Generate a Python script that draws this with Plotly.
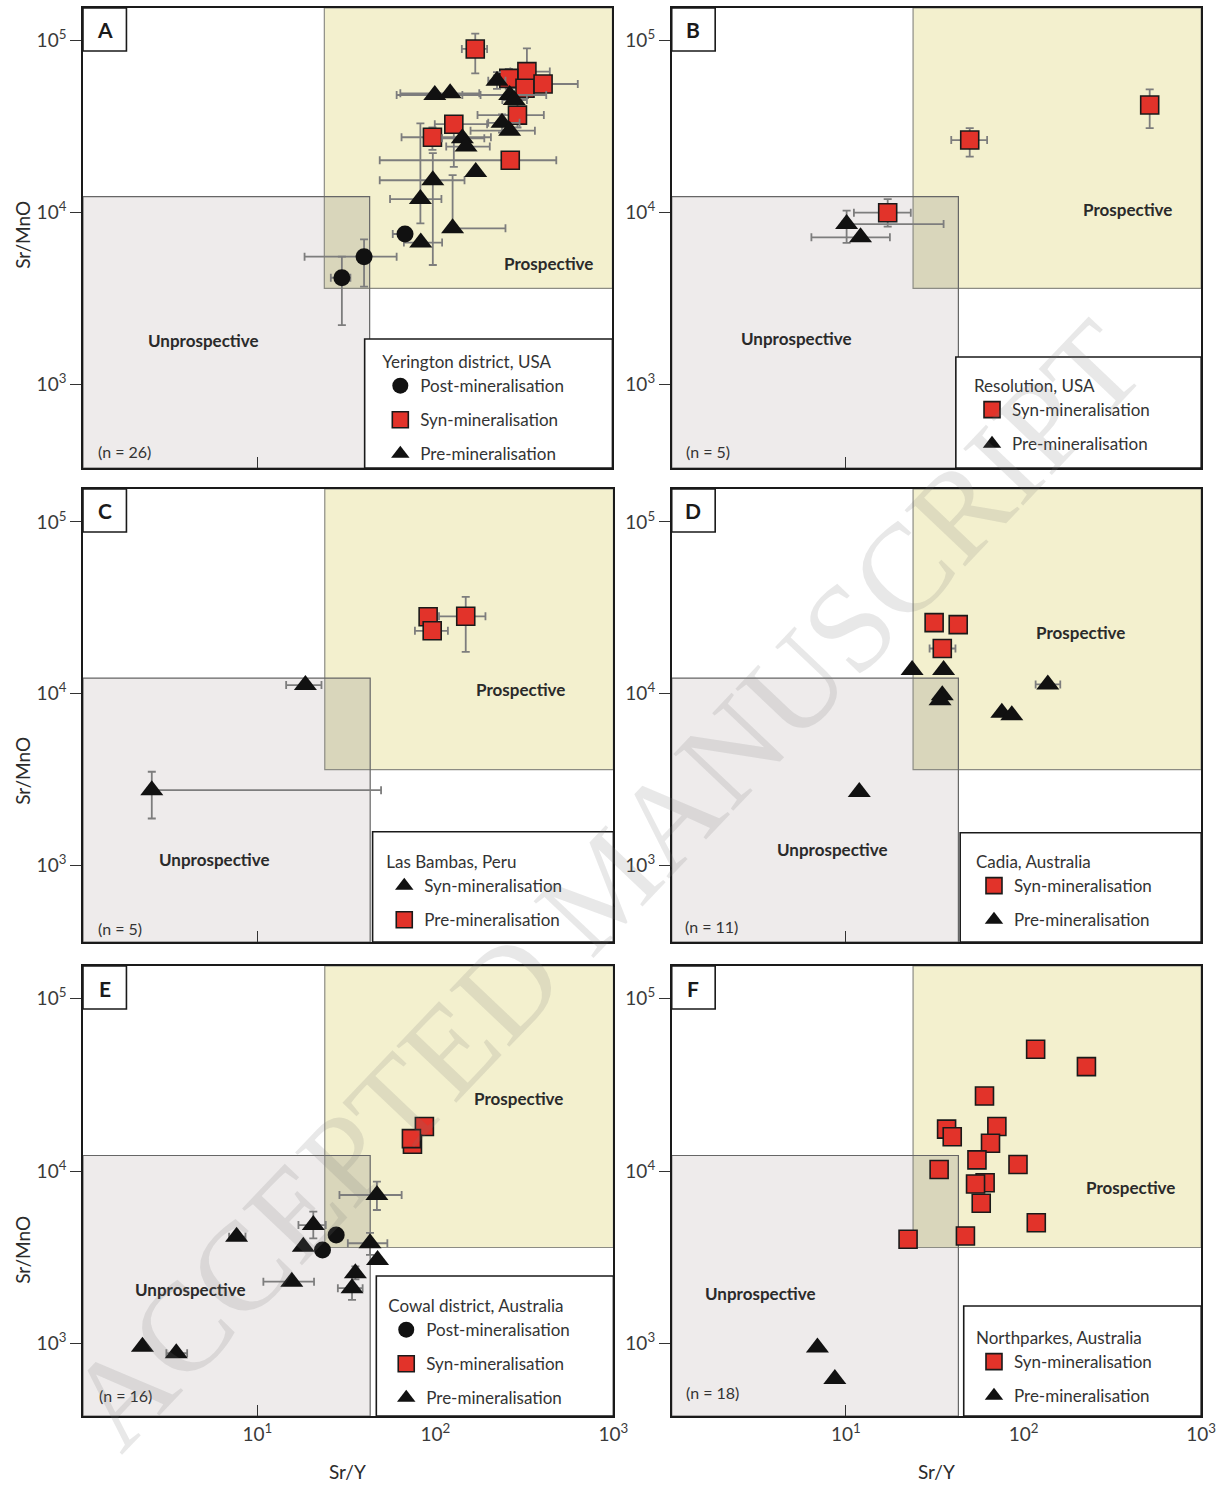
import plotly.graph_objects as go

W, H = 1232, 1488

# ---------------------------------------------------------------------------
# Sr/Y (x) and Sr/MnO (y) of zircon-bearing intrusions, with error ranges
# ---------------------------------------------------------------------------

# A - Yerington district, USA
A_POST_X = [30, 40, 68]
A_POST_Y = [4150, 5500, 7450]
A_POST_XLO = [26, 18.5, 58]
A_POST_XHI = [33.5, 61, 72]
A_POST_YLO = [2200, 3680, 7450]
A_POST_YHI = [5500, 6930, 7450]

A_SYN_X = [169, 330, 261, 322, 407, 292, 128, 97, 266]
A_SYN_Y = [88700, 65500, 59800, 52400, 55500, 36600, 32400, 27200, 20000]
A_SYN_XLO = [142, 266, 215, 262, 316, 174, 100, 65, 49]
A_SYN_XHI = [197, 444, 320, 400, 638, 411, 197, 207, 483]
A_SYN_YLO = [64000, 50000, 52000, 46000, 50000, 31000, 18300, 23000, 20000]
A_SYN_YHI = [109000, 89500, 68000, 60000, 61000, 43000, 36000, 31000, 20000]

A_PRE_X = [100, 122, 224, 264, 280, 239, 264, 143, 150, 170, 97.5, 83, 126, 83.4]
A_PRE_Y = [47900, 49000, 58000, 47900, 44800, 33000, 29700, 26800, 24000,
           17100, 15300, 11900, 8040, 6640]
A_PRE_XLO = [61, 64, 200, 143, 240, 200, 159, 110, 116, 170, 49, 56, 126, 67]
A_PRE_XHI = [181, 178, 250, 424, 330, 300, 366, 190, 204, 170, 147, 109, 250, 110]
A_PRE_YLO = [47900, 49000, 52000, 47900, 44800, 29000, 29700, 26800, 24000,
             17100, 4920, 8600, 8040, 6640]
A_PRE_YHI = [47900, 49000, 65000, 47900, 44800, 37000, 29700, 26800, 24000,
             17100, 22000, 32800, 16400, 6640]

# B - Resolution, USA
B_SYN_X = [513, 49.8, 17.2]
B_SYN_Y = [41900, 26200, 9910]
B_SYN_XLO = [513, 39.2, 11.1]
B_SYN_XHI = [513, 62.4, 23.2]
B_SYN_YLO = [30700, 21000, 8220]
B_SYN_YHI = [51600, 30700, 11900]

B_PRE_X = [10.1, 12.1]
B_PRE_Y = [8510, 7130]
B_PRE_XLO = [9.6, 6.4]
B_PRE_XHI = [35.5, 17.7]
B_PRE_YLO = [6610, 7130]
B_PRE_YHI = [10200, 7130]

# C - Las Bambas, Peru
C_SYN_X = [18.6, 2.55]
C_SYN_Y = [11200, 2735]
C_SYN_XLO = [14.5, 2.55]
C_SYN_XHI = [22.9, 49.5]
C_SYN_YLO = [11200, 1870]
C_SYN_YHI = [11200, 3500]

C_PRE_X = [91, 95.9, 148]
C_PRE_Y = [28000, 23200, 28200]
C_PRE_XLO = [91, 76.7, 104.7]
C_PRE_XHI = [91, 117.5, 191]
C_PRE_YLO = [28000, 23200, 17500]
C_PRE_YHI = [28000, 23200, 36600]

# D - Cadia, Australia
D_SYN_X = [31.4, 42.9, 34.9]
D_SYN_Y = [25900, 25200, 18300]
D_SYN_XLO = [31.4, 42.9, 29.6]
D_SYN_XHI = [31.4, 42.9, 41.4]

D_PRE_X = [23.6, 35.5, 34.9, 33.9, 75.5, 85.9, 137, 11.9]
D_PRE_Y = [13700, 13700, 9780, 9140, 7730, 7480, 11300, 2670]
D_PRE_XLO = [23.6, 35.5, 34.9, 33.9, 75.5, 85.9, 117, 11.9]
D_PRE_XHI = [23.6, 35.5, 34.9, 33.9, 75.5, 85.9, 161, 11.9]

# E - Cowal district, Australia
E_POST_X = [27.7, 23.2]
E_POST_Y = [4250, 3480]

E_SYN_X = [86.7, 74.3, 73.3]
E_SYN_Y = [18100, 14300, 15400]

E_PRE_X = [46.9, 20.6, 7.64, 18.1, 42.9, 47.3, 35.5, 34.0, 15.6, 2.26, 3.50]
E_PRE_Y = [7260, 4860, 4160, 3640, 3810, 3050, 2550, 2090, 2280, 957, 877]
E_PRE_XLO = [28.9, 17.0, 6.93, 18.1, 32.2, 47.3, 35.5, 28.3, 10.8, 2.26, 3.08]
E_PRE_XHI = [64.6, 24.2, 8.57, 18.1, 53.7, 47.3, 35.5, 39.0, 20.8, 2.26, 4.03]
E_PRE_YLO = [5940, 4070, 4160, 3640, 3260, 3050, 2350, 1790, 2280, 957, 877]
E_PRE_YHI = [8670, 5810, 4160, 3640, 4380, 3050, 2800, 2440, 2280, 957, 877]

# F - Northparkes, Australia
F_SYN_X = [117, 226, 60.3, 36.9, 39.7, 70.8, 65.2, 54.7, 93.1, 33.5, 60.8,
           53.7, 57.8, 118, 47.1, 22.4]
F_SYN_Y = [50800, 40300, 27200, 17500, 15800, 18100, 14500, 11600, 10900,
           10200, 8550, 8410, 6500, 5010, 4200, 4020]

F_PRE_X = [6.92, 8.67]
F_PRE_Y = [946, 622]

# Fertility fields
PROSP_SRY_MIN = 23.9
PROSP_SRMNO_MIN = 3600
UNPROSP_SRY_MAX = 43
UNPROSP_SRMNO_MAX = 12300

PANEL_LETTERS = ["A", "B", "C", "D", "E", "F"]
LOCATIONS = ["Yerington district, USA", "Resolution, USA", "Las Bambas, Peru",
             "Cadia, Australia", "Cowal district, Australia", "Northparkes, Australia"]
SAMPLE_COUNTS = [26, 5, 5, 11, 16, 18]

Y_TICKS = [1e3, 1e4, 1e5]
Y_TICKTEXT = ["10<sup>3</sup>", "10<sup>4</sup>", "10<sup>5</sup>"]
X_TICKS = [10, 100, 1000]
X_TICKTEXT = ["10<sup>1</sup>", "10<sup>2</sup>", "10<sup>3</sup>"]

# ---------------------------------------------------------------------------
# Layout geometry (pixels on the 1232 x 1488 page)
# ---------------------------------------------------------------------------
PANEL_PX = [(84, 620, 8, 468), (680, 1216, 8, 468),
            (84, 621, 489, 942), (680, 1216, 489, 942),
            (84, 621, 966, 1416), (680, 1216, 966, 1416)]
X_RANGE = (0.02, 3.0)
Y_RANGES = [(2.512, 5.186), (2.512, 5.186), (2.552, 5.192), (2.552, 5.192),
            (2.579, 5.189), (2.579, 5.189)]
# legend frame: left edge and top edge as axis-domain fractions
LEG_FRAME = [(0.532, 0.2804), (0.5366, 0.2413), (0.546, 0.2435),
             (0.5448, 0.2413), (0.553, 0.311), (0.5515, 0.2444)]
# legend title: left x and vertical centre in pixels
LEG_TITLE_PX = [(387, 358), (986, 382), (391, 858), (988, 858), (393, 1302), (988, 1334)]
PROSP_LABEL_PX = [(555, 263), (1141, 210), (527, 690), (1094, 632), (525, 1098), (1144, 1187)]
UNPROSP_LABEL_PX = [(206, 340), (806, 339), (217, 859), (843, 849), (193, 1289), (770, 1293)]
N_LABEL_PX = [(97, 452), (692, 452), (97, 928), (691, 927), (98, 1395), (692, 1392)]

FONT = "Lato, 'Open Sans', sans-serif"
RED = "#E2332A"
ERR_COLOR = "#7d7d7d"
YELLOW = "#F3F0CE"
GREY = "#EEEBEB"
OVERLAP = "#D9D6BB"

STYLES = {
    "post": dict(symbol="circle", size=17, color="#111111", line=dict(width=0)),
    "syn": dict(symbol="square", size=18, color=RED, line=dict(color="#1a1a1a", width=1.6)),
    "pre": dict(symbol="triangle-up", size=20, color="#111111", line=dict(width=0)),
}


def px_x(p):
    return p / W


def px_y(p):
    return 1 - p / H


def label(x, y, text, size, xanchor="center", color="#2a2a2a", **kw):
    return dict(xref="paper", yref="paper", x=px_x(x), y=px_y(y), text=text,
                xanchor=xanchor, yanchor="middle", showarrow=False,
                font=dict(size=size, color=color, family=kw.pop("family", FONT)), **kw)


def error_spec(centre, lo, hi):
    if lo is None or hi is None:
        return dict(visible=False)
    return dict(type="data", symmetric=False,
                array=[h - c for c, h in zip(centre, hi)],
                arrayminus=[c - l for c, l in zip(centre, lo)],
                color=ERR_COLOR, thickness=1.8, width=4)


# group: (style, legend label, legend rank, x, y, xlo, xhi, ylo, yhi)
GROUPS = [
    [("syn", "Syn-mineralisation", 2, A_SYN_X, A_SYN_Y, A_SYN_XLO, A_SYN_XHI, A_SYN_YLO, A_SYN_YHI),
     ("pre", "Pre-mineralisation", 3, A_PRE_X, A_PRE_Y, A_PRE_XLO, A_PRE_XHI, A_PRE_YLO, A_PRE_YHI),
     ("post", "Post-mineralisation", 1, A_POST_X, A_POST_Y, A_POST_XLO, A_POST_XHI, A_POST_YLO, A_POST_YHI)],
    [("pre", "Pre-mineralisation", 2, B_PRE_X, B_PRE_Y, B_PRE_XLO, B_PRE_XHI, B_PRE_YLO, B_PRE_YHI),
     ("syn", "Syn-mineralisation", 1, B_SYN_X, B_SYN_Y, B_SYN_XLO, B_SYN_XHI, B_SYN_YLO, B_SYN_YHI)],
    [("pre", "Syn-mineralisation", 1, C_SYN_X, C_SYN_Y, C_SYN_XLO, C_SYN_XHI, C_SYN_YLO, C_SYN_YHI),
     ("syn", "Pre-mineralisation", 2, C_PRE_X, C_PRE_Y, C_PRE_XLO, C_PRE_XHI, C_PRE_YLO, C_PRE_YHI)],
    [("syn", "Syn-mineralisation", 1, D_SYN_X, D_SYN_Y, D_SYN_XLO, D_SYN_XHI, None, None),
     ("pre", "Pre-mineralisation", 2, D_PRE_X, D_PRE_Y, D_PRE_XLO, D_PRE_XHI, None, None)],
    [("syn", "Syn-mineralisation", 2, E_SYN_X, E_SYN_Y, None, None, None, None),
     ("pre", "Pre-mineralisation", 3, E_PRE_X, E_PRE_Y, E_PRE_XLO, E_PRE_XHI, E_PRE_YLO, E_PRE_YHI),
     ("post", "Post-mineralisation", 1, E_POST_X, E_POST_Y, None, None, None, None)],
    [("syn", "Syn-mineralisation", 1, F_SYN_X, F_SYN_Y, None, None, None, None),
     ("pre", "Pre-mineralisation", 2, F_PRE_X, F_PRE_Y, None, None, None, None)],
]

fig = go.Figure()
layout = dict(width=W, height=H, margin=dict(l=0, r=0, t=0, b=0),
              paper_bgcolor="white", plot_bgcolor="white",
              font=dict(family=FONT, color="#2b2b2b"), showlegend=True)
shapes, annotations = [], []

for i in range(6):
    n = i + 1
    sfx = "" if n == 1 else str(n)
    xa, ya = f"x{sfx}", f"y{sfx}"
    leg = f"legend{sfx}"
    x0p, x1p, y0p, y1p = PANEL_PX[i]
    yr = Y_RANGES[i]
    bottom_row = i >= 4

    layout[f"xaxis{sfx}"] = dict(
        type="log", range=list(X_RANGE), domain=[px_x(x0p), px_x(x1p)], anchor=ya,
        showgrid=False, zeroline=False, showline=True, linecolor="#1a1a1a", linewidth=1.6,
        mirror=True, ticks="inside", ticklen=11, tickwidth=1.4, tickcolor="#333333",
        tickvals=X_TICKS, ticktext=X_TICKTEXT, showticklabels=bottom_row,
        tickfont=dict(size=19, color="#3a3a3a", family=FONT))
    layout[f"yaxis{sfx}"] = dict(
        type="log", range=list(yr), domain=[px_y(y1p), px_y(y0p)], anchor=xa,
        showgrid=False, zeroline=False, showline=True, linecolor="#1a1a1a", linewidth=1.6,
        mirror=True, ticks="outside", ticklen=11, tickwidth=1.4, tickcolor="#333333",
        tickvals=Y_TICKS, ticktext=Y_TICKTEXT,
        tickfont=dict(size=19, color="#3a3a3a", family=FONT))

    xmin, xmax = 10 ** X_RANGE[0], 10 ** X_RANGE[1]
    ymin, ymax = 10 ** yr[0], 10 ** yr[1]

    # prospective / unprospective fields
    shapes += [
        dict(type="rect", xref=xa, yref=ya, x0=PROSP_SRY_MIN, x1=xmax, y0=PROSP_SRMNO_MIN, y1=ymax,
             fillcolor=YELLOW, line=dict(width=0), layer="below"),
        dict(type="rect", xref=xa, yref=ya, x0=xmin, x1=UNPROSP_SRY_MAX, y0=ymin, y1=UNPROSP_SRMNO_MAX,
             fillcolor=GREY, line=dict(width=0), layer="below"),
        dict(type="rect", xref=xa, yref=ya, x0=PROSP_SRY_MIN, x1=UNPROSP_SRY_MAX,
             y0=PROSP_SRMNO_MIN, y1=UNPROSP_SRMNO_MAX,
             fillcolor=OVERLAP, line=dict(width=0), layer="below"),
        dict(type="rect", xref=xa, yref=ya, x0=PROSP_SRY_MIN, x1=xmax, y0=PROSP_SRMNO_MIN, y1=ymax,
             line=dict(color="#8c8c84", width=1.2), layer="below"),
        dict(type="rect", xref=xa, yref=ya, x0=xmin, x1=UNPROSP_SRY_MAX, y0=ymin, y1=UNPROSP_SRMNO_MAX,
             line=dict(color="#666666", width=1.2), layer="below"),
    ]
    # legend frame and panel letter frame
    lx, ly = LEG_FRAME[i]
    shapes.append(dict(type="rect", xref=f"{xa} domain", yref=f"{ya} domain",
                       x0=lx, x1=1, y0=0, y1=ly, fillcolor="white",
                       line=dict(color="#1a1a1a", width=1.6), layer="above"))
    pw, ph = x1p - x0p, y1p - y0p
    shapes.append(dict(type="rect", xref=f"{xa} domain", yref=f"{ya} domain",
                       x0=0, x1=44 / pw, y0=1 - 43 / ph, y1=1, fillcolor="white",
                       line=dict(color="#1a1a1a", width=1.6), layer="above"))
    annotations.append(label(x0p + 22, y0p + 22, f"<b>{PANEL_LETTERS[i]}</b>", 21, color="#1a1a1a"))

    # field labels and sample count
    annotations.append(label(*PROSP_LABEL_PX[i], "<b>Prospective</b>", 17))
    annotations.append(label(*UNPROSP_LABEL_PX[i], "<b>Unprospective</b>", 17))
    annotations.append(label(*N_LABEL_PX[i], f"(n = {SAMPLE_COUNTS[i]})", 16,
                             xanchor="left", color="#333333"))

    # legend
    tx, ty = LEG_TITLE_PX[i]
    layout[leg] = dict(x=px_x(tx - 2), y=px_y(ty - 12), xanchor="left", yanchor="top",
                       bgcolor="rgba(0,0,0,0)", borderwidth=0, tracegroupgap=9,
                       font=dict(size=17, color="#333333", family=FONT),
                       title=dict(text=LOCATIONS[i], font=dict(size=17, color="#333333", family=FONT)))

    # data
    for k, (style, name, rank, x, y, xlo, xhi, ylo, yhi) in enumerate(GROUPS[i]):
        fig.add_trace(go.Scatter(
            x=x, y=y, mode="markers", name=name, xaxis=xa, yaxis=ya,
            legend=leg, legendrank=rank, legendgroup=f"{PANEL_LETTERS[i]}{k}",
            marker=STYLES[style],
            error_x=error_spec(x, xlo, xhi), error_y=error_spec(y, ylo, yhi),
            hoverinfo="x+y+name"))

# axis titles
for yc in (235, 771, 1250):
    annotations.append(label(22, yc, "Sr/MnO", 19, color="#2b2b2b", textangle=-90))
for xc in (352, 948):
    annotations.append(label(xc, 1471, "Sr/Y", 19, color="#2b2b2b"))

# diagonal manuscript watermark
annotations.append(label(612, 884, "ACCEPTED MANUSCRIPT", 126, color="rgba(120,120,120,0.17)",
                         textangle=-46.5, family="'Liberation Serif', 'DejaVu Serif', serif"))

layout["shapes"] = shapes
layout["annotations"] = annotations
fig.update_layout(**layout)
fig.write_html("out.html")
